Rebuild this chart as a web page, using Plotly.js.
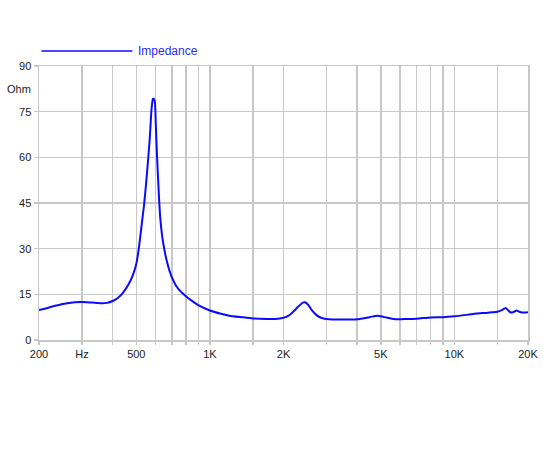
<!DOCTYPE html>
<html>
<head>
<meta charset="utf-8">
<script src="https://cdn.plot.ly/plotly-3.0.1.min.js"></script>
<style>html,body{margin:0;padding:0;background:#fff;}#chart{width:550px;height:450px;}</style>
</head>
<body>
<div id="chart"></div>
<script>
// Frequency (Hz) and impedance (Ohm)
const freq = [200, 220, 250, 280, 300, 330, 360, 380, 400, 420, 440, 465, 485, 500, 511, 527, 539, 553, 567, 578, 585, 590, 596, 600, 608, 617, 626, 638, 652, 668, 685, 700, 725, 750, 800, 850, 900, 1000, 1100, 1200, 1350, 1500, 1700, 1850, 2000, 2100, 2200, 2300, 2400, 2450, 2520, 2610, 2737, 2850, 3000, 3500, 4000, 4500, 4840, 5130, 5620, 6000, 6360, 7000, 8000, 9000, 10000, 11160, 12320, 13000, 13530, 14200, 15000, 15620, 16220, 16850, 17380, 17940, 18530, 19290, 20000];
const impedance = [9.8, 10.7, 11.8, 12.4, 12.5, 12.3, 12.1, 12.2, 12.8, 13.8, 15.4, 18.3, 21.5, 25.0, 29.6, 38.4, 45.0, 54.8, 65.7, 76.5, 79.2, 79.2, 78.0, 72.0, 60.2, 49.3, 40.5, 34.0, 29.5, 25.6, 22.5, 20.5, 18.0, 16.4, 14.3, 12.7, 11.4, 9.7, 8.7, 8.0, 7.5, 7.1, 6.9, 6.9, 7.3, 8.0, 9.4, 11.0, 12.3, 12.4, 11.6, 9.8, 8.1, 7.3, 6.9, 6.7, 6.8, 7.5, 8.0, 7.6, 6.9, 6.8, 6.9, 7.0, 7.4, 7.5, 7.8, 8.25, 8.7, 8.9, 8.9, 9.1, 9.3, 9.8, 10.5, 9.2, 9.1, 9.7, 9.2, 9.0, 9.1];

const xGridVals = [200, 300, 400, 500, 600, 700, 800, 900, 1000, 1500, 2000, 3000, 4000, 5000, 6000, 7000, 8000, 9000, 10000, 15000, 20000];
const xGridText = ['200', 'Hz', '', '500', '', '', '', '', '1K', '', '2K', '', '', '5K', '', '', '', '', '10K', '', '20K'];
const yTickVals = [0, 15, 30, 45, 60, 75, 90];
const yTickText = ['0', '15', '30', '45', '60', '75', '90'];
const yUnit = 'Ohm';
const yUnitPos = 82.5;
const seriesName = 'Impedance';

const grid = '#c8c8c8';
const font = {family: '"Liberation Sans", Arial, sans-serif', size: 11, color: '#222'};

const trace = {
  x: freq, y: impedance, type: 'scatter', mode: 'lines', name: seriesName,
  line: {color: '#0a0aff', width: 2, shape: 'spline', smoothing: 0.6}, showlegend: false, hoverinfo: 'skip'
};

const layout = {
  width: 550, height: 450,
  margin: {l: 38.5, r: 21.5, t: 65.5, b: 109.5},
  paper_bgcolor: '#fff', plot_bgcolor: '#fff',
  font: font,
  xaxis: {
    type: 'log', range: [Math.log10(200), Math.log10(20000)],
    tickmode: 'array', tickvals: xGridVals, ticktext: xGridText,
    showgrid: true, gridcolor: grid, gridwidth: 1.5,
    showline: true, linecolor: grid, linewidth: 1.5, mirror: true,
    ticks: 'outside', ticklen: 3, tickcolor: grid, tickwidth: 1.5,
    zeroline: false, tickfont: font, fixedrange: true
  },
  yaxis: {
    range: [0, 90], tickmode: 'array', tickvals: yTickVals, ticktext: yTickText,
    showgrid: true, gridcolor: grid, gridwidth: 1.5,
    showline: true, linecolor: grid, linewidth: 1.5, mirror: true,
    ticks: 'outside', ticklen: 4, tickcolor: grid, tickwidth: 1.5,
    zeroline: false, tickfont: font, fixedrange: true
  },
  shapes: [{
    type: 'line', xref: 'paper', yref: 'paper',
    x0: 0.005, x1: 0.191, y0: 1.055, y1: 1.055,
    line: {color: '#0a0aff', width: 1.5}
  }],
  annotations: [
    {xref: 'paper', yref: 'y', x: 0, y: yUnitPos, text: yUnit, showarrow: false,
     xanchor: 'right', yanchor: 'middle', xshift: -6, font: font},
    {xref: 'paper', yref: 'paper', x: 0.199, y: 1.055, text: seriesName, showarrow: false,
     xanchor: 'left', yanchor: 'middle', font: {family: font.family, size: 12, color: '#2a2aff'}}
  ]
};

Plotly.newPlot('chart', [trace], layout, {displayModeBar: false, staticPlot: true});
</script>
</body>
</html>
